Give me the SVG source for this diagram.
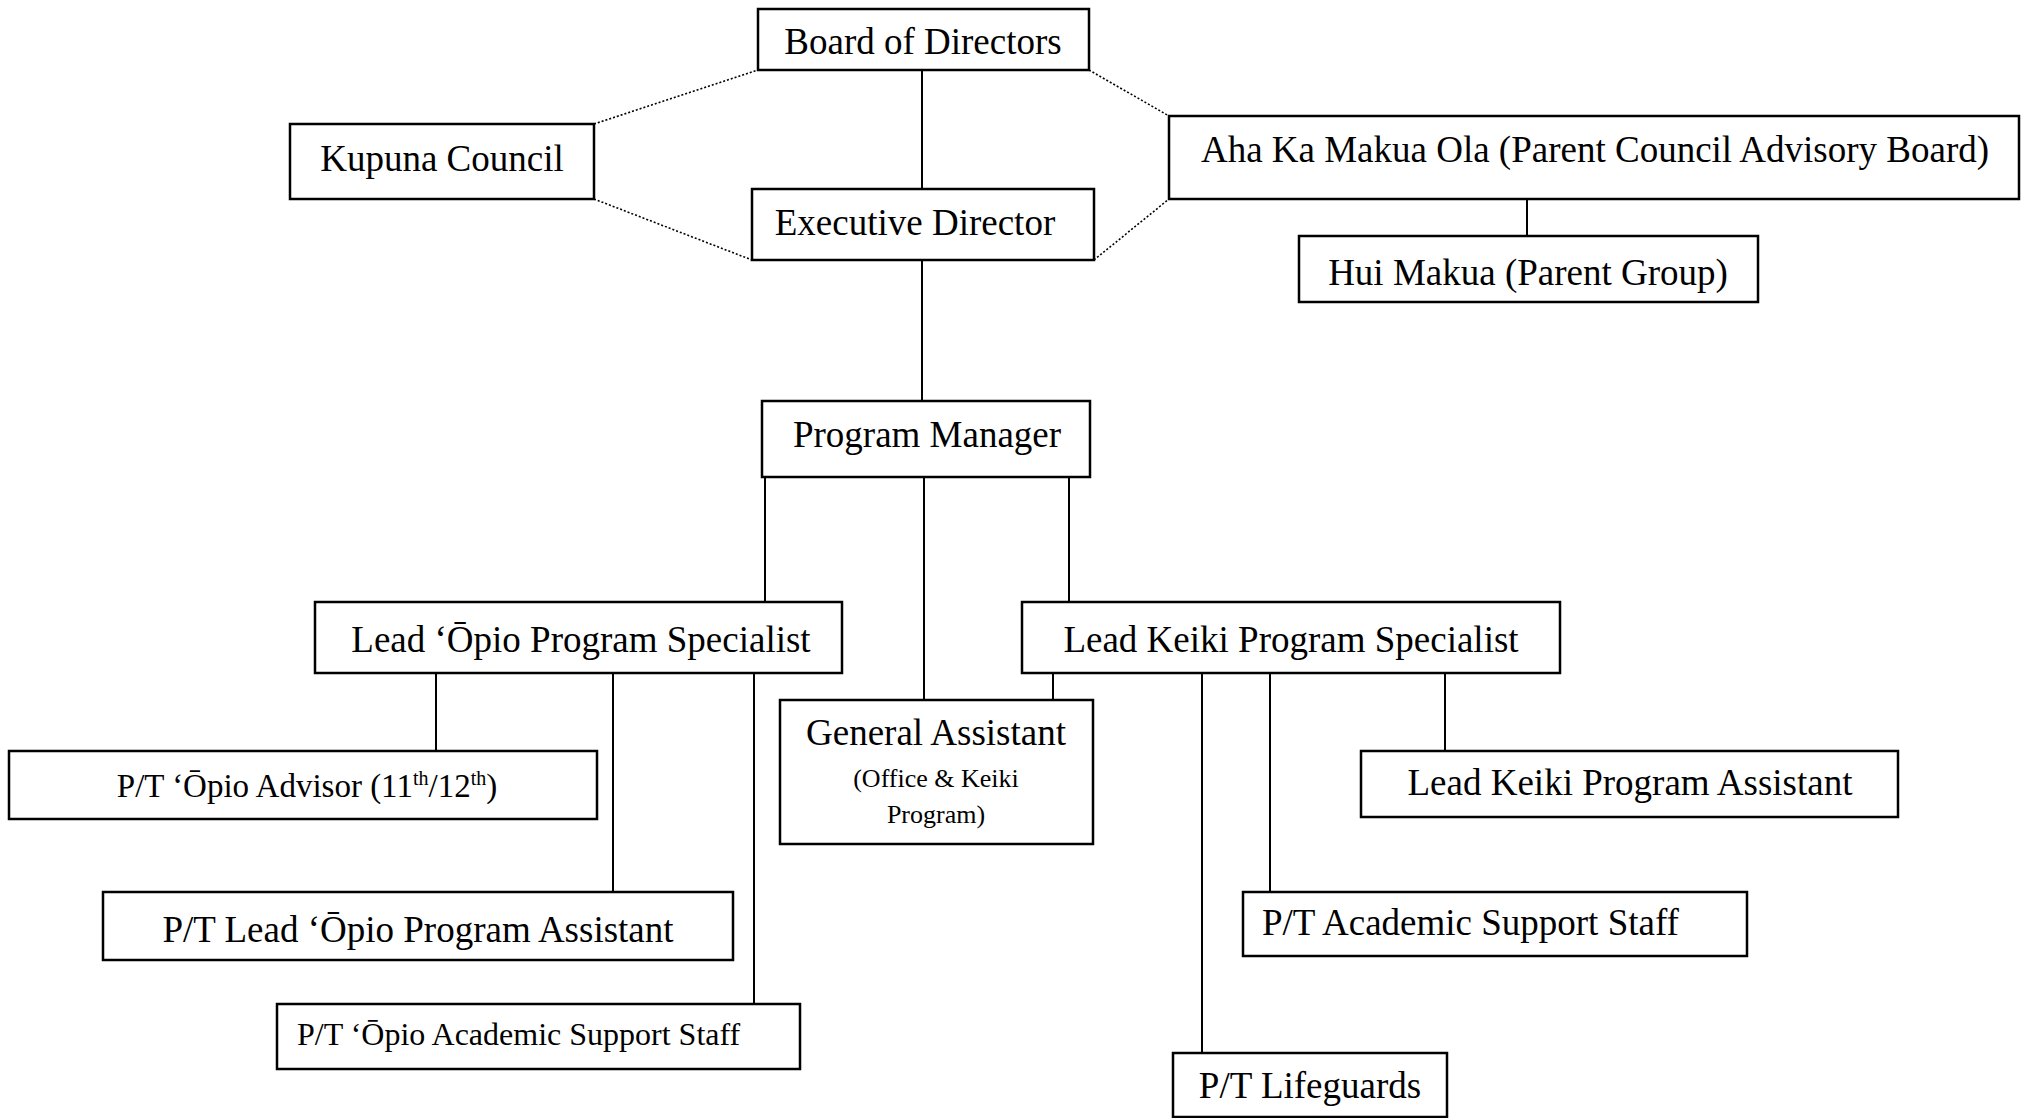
<svg xmlns="http://www.w3.org/2000/svg" width="2028" height="1118" viewBox="0 0 2028 1118">
<style>
.box{fill:#fff;stroke:#000;stroke-width:2.5}
.t{font-family:"Liberation Serif","Times New Roman",serif;font-size:37px;fill:#000}
.s{font-family:"Liberation Serif","Times New Roman",serif;font-size:26px;fill:#000}
.c{text-anchor:middle}
.ln{stroke:#000;stroke-width:2;fill:none}
.dot{stroke:#000;stroke-width:1.6;stroke-dasharray:2 2;fill:none}
</style>
<rect width="2028" height="1118" fill="#fff"/>
<g id="connectors">
<line class="ln" x1="922" y1="70" x2="922" y2="189"/>
<line class="ln" x1="922" y1="260" x2="922" y2="401"/>
<line class="ln" x1="1527" y1="199" x2="1527" y2="236"/>
<line class="ln" x1="765" y1="477" x2="765" y2="602"/>
<line class="ln" x1="924" y1="477" x2="924" y2="700"/>
<line class="ln" x1="1069" y1="477" x2="1069" y2="602"/>
<line class="ln" x1="436" y1="673" x2="436" y2="751"/>
<line class="ln" x1="613" y1="673" x2="613" y2="892"/>
<line class="ln" x1="754" y1="673" x2="754" y2="1004"/>
<line class="ln" x1="1053" y1="673" x2="1053" y2="700"/>
<line class="ln" x1="1202" y1="673" x2="1202" y2="1053"/>
<line class="ln" x1="1270" y1="673" x2="1270" y2="892"/>
<line class="ln" x1="1445" y1="673" x2="1445" y2="751"/>
<line class="dot" x1="594" y1="124" x2="758" y2="70"/>
<line class="dot" x1="594" y1="199" x2="752" y2="260"/>
<line class="dot" x1="1089" y1="70" x2="1169" y2="116"/>
<line class="dot" x1="1094" y1="260" x2="1169" y2="199"/>
</g>
<g id="board">
<rect class="box" x="758" y="9" width="331" height="61"/>
<text class="t c" x="923" y="54">Board of Directors</text>
</g>
<g id="kupuna">
<rect class="box" x="290" y="124" width="304" height="75"/>
<text class="t c" x="442" y="171">Kupuna Council</text>
</g>
<g id="executive">
<rect class="box" x="752" y="189" width="342" height="71"/>
<text class="t c" x="915" y="235">Executive Director</text>
</g>
<g id="aha">
<rect class="box" x="1169" y="116" width="850" height="83"/>
<text class="t c" x="1595" y="162">Aha Ka Makua Ola (Parent Council Advisory Board)</text>
</g>
<g id="hui">
<rect class="box" x="1299" y="236" width="459" height="66"/>
<text class="t c" x="1528" y="285">Hui Makua (Parent Group)</text>
</g>
<g id="program-manager">
<rect class="box" x="762" y="401" width="328" height="76"/>
<text class="t c" x="927" y="447">Program Manager</text>
</g>
<g id="lead-opio">
<rect class="box" x="315" y="602" width="527" height="71"/>
<text class="t c" x="581" y="652">Lead ‘Ōpio Program Specialist</text>
</g>
<g id="lead-keiki">
<rect class="box" x="1022" y="602" width="538" height="71"/>
<text class="t c" x="1291" y="652">Lead Keiki Program Specialist</text>
</g>
<g id="general-assistant">
<rect class="box" x="780" y="700" width="313" height="144"/>
<text class="t c" x="936" y="745">General Assistant</text>
<text class="s c" x="936" y="787">(Office &amp; Keiki</text>
<text class="s c" x="936" y="823">Program)</text>
</g>
<g id="opio-advisor">
<rect class="box" x="9" y="751" width="588" height="68"/>
<text class="t c" x="307" y="797" style="font-size:33px">P/T ‘Ōpio Advisor (11<tspan dy="-12" style="font-size:20px">th</tspan><tspan dy="12">/12</tspan><tspan dy="-12" style="font-size:20px">th</tspan><tspan dy="12">)</tspan></text>
</g>
<g id="lead-keiki-assistant">
<rect class="box" x="1361" y="751" width="537" height="66"/>
<text class="t c" x="1630" y="795">Lead Keiki Program Assistant</text>
</g>
<g id="lead-opio-assistant">
<rect class="box" x="103" y="892" width="630" height="68"/>
<text class="t c" x="418" y="942">P/T Lead ‘Ōpio Program Assistant</text>
</g>
<g id="academic-support">
<rect class="box" x="1243" y="892" width="504" height="64"/>
<text class="t" x="1262" y="935">P/T Academic Support Staff</text>
</g>
<g id="opio-academic-support">
<rect class="box" x="277" y="1004" width="523" height="65"/>
<text class="t" x="297" y="1045" style="font-size:32px">P/T ‘Ōpio Academic Support Staff</text>
</g>
<g id="lifeguards">
<rect class="box" x="1173" y="1053" width="274" height="64"/>
<text class="t c" x="1310" y="1098">P/T Lifeguards</text>
</g>
</svg>
